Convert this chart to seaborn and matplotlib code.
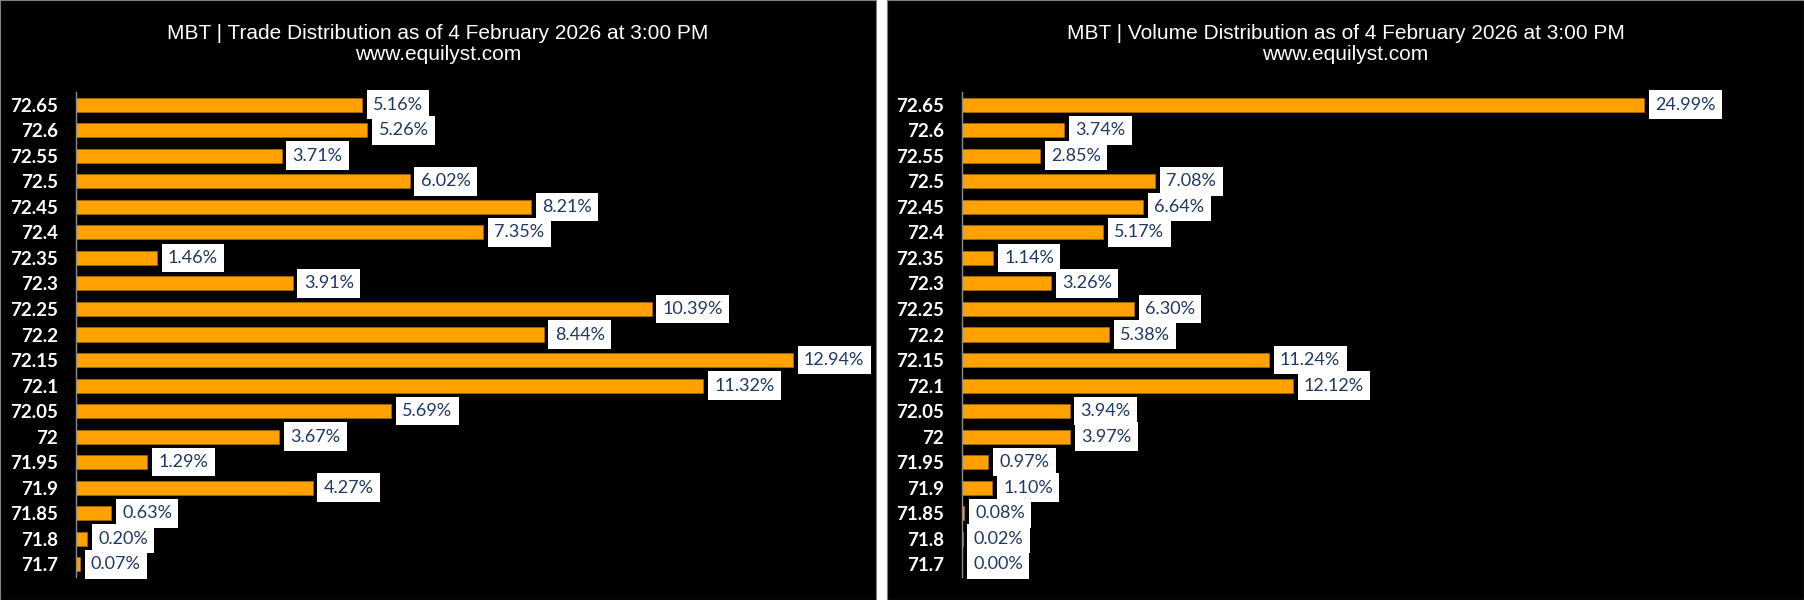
import pandas as pd
import numpy as np
import matplotlib
matplotlib.use("Agg")
import matplotlib.pyplot as plt
from matplotlib.patches import Rectangle
import seaborn as sns

prices = ["72.65", "72.6", "72.55", "72.5", "72.45", "72.4", "72.35", "72.3", "72.25", "72.2",
          "72.15", "72.1", "72.05", "72", "71.95", "71.9", "71.85", "71.8", "71.7"]
trade_pct = [5.16, 5.26, 3.71, 6.02, 8.21, 7.35, 1.46, 3.91, 10.39, 8.44,
             12.94, 11.32, 5.69, 3.67, 1.29, 4.27, 0.63, 0.20, 0.07]
volume_pct = [24.99, 3.74, 2.85, 7.08, 6.64, 5.17, 1.14, 3.26, 6.30, 5.38,
              11.24, 12.12, 3.94, 3.97, 0.97, 1.10, 0.08, 0.02, 0.00]
titles = ["MBT | Trade Distribution as of 4 February 2026 at 3:00 PM\nwww.equilyst.com",
          "MBT | Volume Distribution as of 4 February 2026 at 3:00 PM\nwww.equilyst.com"]

sns.set_style("dark")
W, H = 1804, 600
fig = plt.figure(figsize=(W / 100, H / 100), dpi=100)
fig.patch.set_facecolor("white")

bar_color = "#FFA200"
label_color = "#1F3864"

# black panels
panels = [(0, 876), (887, W)]
for x0, x1 in panels:
    fig.add_artist(Rectangle((x0 / W, 0), (x1 - x0) / W, 1, transform=fig.transFigure,
                             facecolor="black", edgecolor="#808080", lw=0.8, zorder=0))

# axes boxes in pixels: left, width, xmax
axes_spec = [(76, 790, 790 / 55.4), (962, 830, 830 / 27.3)]
series = [trade_pct, volume_pct]

for (x0, x1), (left, width, xmax), vals, title in zip(panels, axes_spec, series, titles):
    ax = fig.add_axes([left / W, 23 / H, width / W, 485 / H])
    df = pd.DataFrame({"price": prices, "pct": vals})
    sns.barplot(data=df, x="pct", y="price", order=prices, orient="h", color=bar_color,
                width=0.55, edgecolor="#B06A00", linewidth=0.5, saturation=1, ax=ax)
    ax.set_facecolor("black")
    ax.set_xlim(0, xmax)
    ax.set_ylim(18.5, -0.5)
    ax.set_xlabel("")
    ax.set_ylabel("")
    ax.set_xticks([])
    ax.grid(False)
    for s in ["top", "right", "bottom"]:
        ax.spines[s].set_visible(False)
    ax.spines["left"].set_color("#8C8C8C")
    ax.spines["left"].set_linewidth(1.0)
    ax.tick_params(axis="y", length=0, pad=13, colors="white")
    for t in ax.get_yticklabels():
        t.set_fontfamily("Lato")
        t.set_fontweight("bold")
        t.set_fontsize(13.5)
        t.set_color("white")
    for i, v in enumerate(vals):
        ax.annotate(f"{v:.2f}%", xy=(v, i), xytext=(8, 0), textcoords="offset points",
                    ha="left", va="center", fontsize=13, family="Lato", color=label_color,
                    bbox=dict(boxstyle="square,pad=0.35", facecolor="white", edgecolor="none"))
    fig.text((x0 + x1) / 2 / W, 1 - 44 / H, title, ha="center", va="center",
             fontsize=15, family="Liberation Sans", color="white", linespacing=1.15)

fig.savefig("out.png", dpi=100, facecolor=fig.get_facecolor())
